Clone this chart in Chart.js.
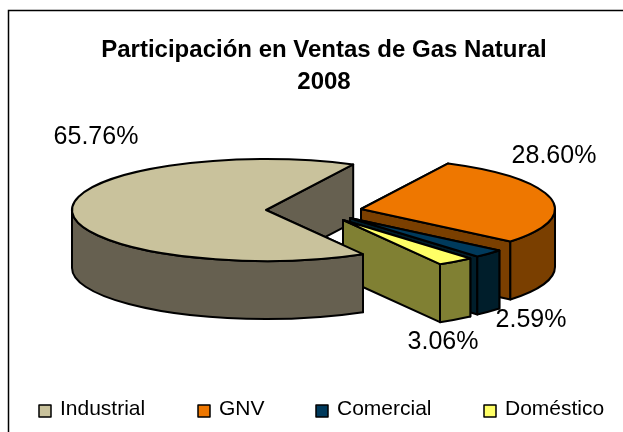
<!DOCTYPE html>
<html>
<head>
<meta charset="utf-8">
<script src="https://cdn.jsdelivr.net/npm/chart.js@4"></script>
<style>
  html, body { margin: 0; padding: 0; background: #fff; }
  #box { width: 623px; height: 432px; }
</style>
</head>
<body>
<div id="box"><canvas id="gasChart" width="623" height="432"></canvas></div>
<script>
// Chart data
const categories = ['Industrial', 'GNV', 'Comercial', 'Doméstico'];
const shares = [65.76, 28.60, 2.59, 3.06];
const shareLabels = ['65.76%', '28.60%', '2.59%', '3.06%'];
const titleLines = ['Participación en Ventas de Gas Natural', '2008'];

// Colors
const topColors = ['#C9C29C', '#EE7700', '#003A5C', '#FFFF66'];
const sideColors = ['#666050', '#7A3F00', '#001E2B', '#808033'];

// Fake 3D look: squash factor, thickness, pulled out slices
const tilt = 0.263;
const depth = 58;
const pieCentre = { x: 266, y: 210 };
const pull = [[0, 0], [95, -1], [84, 8], [77, 10]];
const labelPos = [[-170, -73], [288, -54], [265, 110], [177, 132]];
// Legend box positions, chart's own legend wraps at this spacing
const legendX = [39, 198, 316, 484];
const legendY = 409;

function sidePath(ctx, a, b) {
    // a to b along the top rim, back along the bottom rim
    ctx.beginPath();
    ctx.ellipse(a.x, a.y, a.rx, a.ry, 0, b.from, b.to);
    ctx.ellipse(a.x, a.y + depth, a.rx, a.ry, 0, b.to, b.from, true);
    ctx.closePath();
}

function fillStroke(ctx, color) {
    ctx.fillStyle = color;
    ctx.fill();
    ctx.stroke();
}

function drawFaces(ctx, s, color) {
    // the straight cut faces, back one first
    const angles = [s.start, s.end].sort((p, q) => Math.sin(p) - Math.sin(q));
    angles.forEach(angle => {
        const px = s.x + s.rx * Math.cos(angle);
        const py = s.y + s.ry * Math.sin(angle);
        ctx.beginPath();
        ctx.moveTo(s.x, s.y);
        ctx.lineTo(px, py);
        ctx.lineTo(px, py + depth);
        ctx.lineTo(s.x, s.y + depth);
        ctx.closePath();
        fillStroke(ctx, color);
    });
}

function drawRim(ctx, s, color) {
    // only the part of the rim facing the viewer (0..PI, maybe one turn later)
    [0, 2 * Math.PI].forEach(turn => {
        const from = Math.max(s.start, turn);
        const to = Math.min(s.end, turn + Math.PI);
        if (to > from) {
            sidePath(ctx, s, { from: from, to: to });
            fillStroke(ctx, color);
        }
    });
}

function drawTop(ctx, s, color) {
    ctx.beginPath();
    ctx.moveTo(s.x, s.y);
    ctx.ellipse(s.x, s.y, s.rx, s.ry, 0, s.start, s.end);
    ctx.closePath();
    fillStroke(ctx, color);
}

const pie3d = {
    id: 'pie3d',
    beforeDraw(chart) {
        const ctx = chart.ctx;
        ctx.save();
        ctx.fillStyle = '#fff';
        ctx.fillRect(0, 0, chart.width, chart.height);
        // frame is cut off by the picture: only left and top lines show
        ctx.strokeStyle = '#000';
        ctx.lineWidth = 1.5;
        ctx.beginPath();
        ctx.moveTo(8.5, chart.height);
        ctx.lineTo(8.5, 10.5);
        ctx.lineTo(chart.width, 10.5);
        ctx.stroke();
        ctx.restore();
    },
    beforeDatasetsDraw(chart) {
        const ctx = chart.ctx;
        const arcs = chart.getDatasetMeta(0).data;
        const slices = arcs.map((arc, i) => ({
            x: pieCentre.x + pull[i][0],
            y: pieCentre.y + pull[i][1],
            rx: arc.outerRadius,
            ry: arc.outerRadius * tilt,
            start: arc.startAngle,
            end: arc.endAngle
        }));

        ctx.save();
        ctx.strokeStyle = '#000';
        ctx.lineWidth = 2;
        ctx.lineJoin = 'round';

        // Industrial's inner faces sit behind the pulled slices, its rim and top in front
        drawFaces(ctx, slices[0], sideColors[0]);
        [1, 2, 3].forEach(i => {
            drawFaces(ctx, slices[i], sideColors[i]);
            drawRim(ctx, slices[i], sideColors[i]);
            drawTop(ctx, slices[i], topColors[i]);
        });
        drawRim(ctx, slices[0], sideColors[0]);
        drawTop(ctx, slices[0], topColors[0]);

        // Percent labels
        ctx.fillStyle = '#000';
        ctx.font = '25px "Liberation Sans"';
        ctx.textAlign = 'center';
        ctx.textBaseline = 'middle';
        shareLabels.forEach((label, i) => {
            ctx.fillText(label, pieCentre.x + labelPos[i][0], pieCentre.y + labelPos[i][1]);
        });

        // Legend
        ctx.font = '21px "Liberation Sans"';
        ctx.textAlign = 'left';
        ctx.lineWidth = 1.5;
        categories.forEach((name, i) => {
            ctx.fillStyle = topColors[i];
            ctx.fillRect(legendX[i], legendY - 4, 12, 12);
            ctx.strokeRect(legendX[i], legendY - 4, 12, 12);
            ctx.fillStyle = '#000';
            ctx.fillText(name, legendX[i] + 21, legendY);
        });
        ctx.restore();
        return false;
    }
};

new Chart(document.getElementById('gasChart'), {
    type: 'pie',
    data: {
        labels: categories,
        datasets: [{
            data: shares,
            backgroundColor: topColors,
            borderColor: '#000',
            borderWidth: 2
        }]
    },
    options: {
        responsive: false,
        animation: false,
        rotation: 150,
        radius: 194,
        layout: { padding: { left: 25, right: 0, top: 34, bottom: 10 } },
        plugins: {
            title: {
                display: true,
                text: titleLines,
                color: '#000',
                font: { family: '"Liberation Sans"', size: 24, weight: 'bold', lineHeight: 1.33 },
                padding: { top: 0, bottom: 10 }
            },
            legend: { display: false },
            tooltip: { enabled: false }
        }
    },
    plugins: [pie3d]
});
</script>
</body>
</html>
